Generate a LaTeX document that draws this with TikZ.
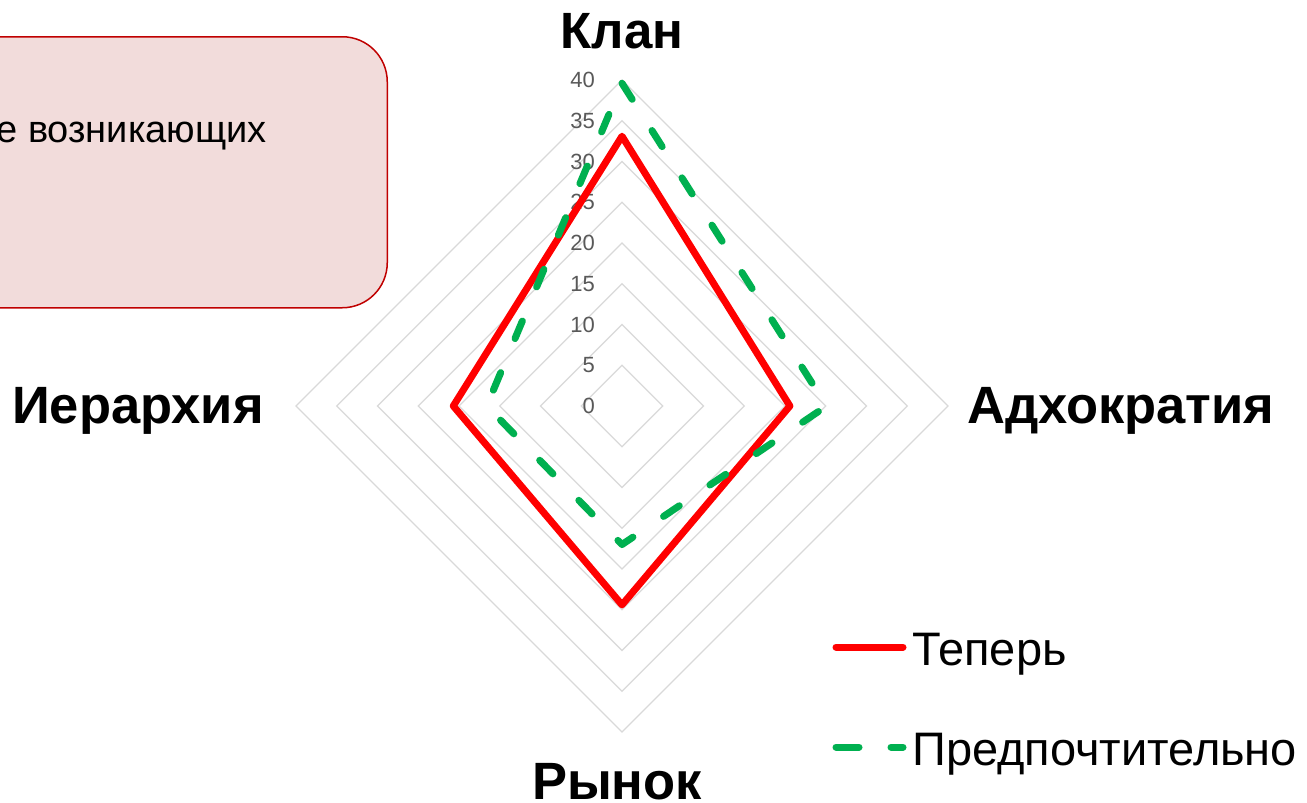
\documentclass[tikz,border=0pt]{standalone}
\usepackage{fontspec}
\setmainfont{Liberation Sans}
\definecolor{gridgray}{HTML}{D9D9D9}
\definecolor{tickgray}{HTML}{595959}
\definecolor{nowred}{HTML}{FF0000}
\definecolor{prefgreen}{HTML}{00B050}
\definecolor{boxred}{HTML}{C00000}
\definecolor{boxpink}{HTML}{F2DCDB}
\begin{document}
\begin{tikzpicture}[x=1pt,y=-1pt,
  gridline/.style={draw=gridgray, line width=1.3pt},
  nowline/.style={draw=nowred, line width=7pt, line join=round, line cap=round},
  prefline/.style={draw=prefgreen, line width=7pt, line join=round, line cap=round, dash pattern=on 19pt off 37pt},
  axislab/.style={font=\fontsize{52.5}{60}\selectfont\bfseries, anchor=base, inner sep=0pt},
  ticklab/.style={font=\fontsize{22}{26}\selectfont, text=tickgray, anchor=east, inner sep=0pt},
  legtext/.style={font=\fontsize{47}{54}\selectfont, anchor=base west, inner sep=0pt},
  notebox/.style={draw=boxred, fill=boxpink, line width=1.5pt, rounded corners=45pt, anchor=north east, minimum width=460pt, minimum height=271pt, inner sep=0pt},
]
\useasboundingbox (0,0) rectangle (1307,803);
\clip (0,0) rectangle (1307,803);
\fill[white] (0,0) rectangle (1307,803);
% note box
\node[notebox] (note) at (388,36) {};
\node[font=\fontsize{38}{44}\selectfont, anchor=base east, inner sep=0pt] (notetext) at (267,142) {е возникающих};
% grid
\coordinate (c) at (622,406);
\foreach \k in {1,...,8}{
  \draw[gridline] (622,406-\k*40.75) -- (622+\k*40.75,406) -- (622,406+\k*40.75) -- (622-\k*40.75,406) -- cycle;
}
% tick labels
\foreach \k/\v in {0/0,1/5,2/10,3/15,4/20,5/25,6/30,7/35,8/40}{
  \node[ticklab] (t\k) at (595,406-\k*40.75) {\v};
}
% series
\def\s{8.15}
\coordinate (nk) at (622,406-33.1*\s);
\coordinate (na) at (622+20.6*\s,406);
\coordinate (nr) at (622,406+24.4*\s);
\coordinate (ni) at (622-20.7*\s,406);
\draw[nowline] (nk) -- (na) -- (nr) -- (ni) -- cycle;
\coordinate (pk) at (622,406-39.6*\s);
\coordinate (pa) at (622+25.1*\s,406);
\coordinate (pr) at (622,406+17.0*\s);
\coordinate (pi) at (622-16.6*\s,406);
\draw[prefline] (pk) -- (pa) -- (pr) -- (pi) -- cycle;
% axis labels
\node[axislab, font=\fontsize{51}{60}\selectfont\bfseries] (klan) at (622,48) {Клан};
\node[axislab, anchor=base west] (adh) at (967,423) {Адхократия};
\node[axislab] (rynok) at (617,799) {Рынок};
\node[axislab, anchor=base west] (ier) at (12,423) {Иерархия};
% legend
\coordinate (l1a) at (836,647);
\coordinate (l1b) at (903,647);
\draw[nowline] (l1a) -- (l1b);
\coordinate (l2a) at (836,747);
\coordinate (l2b) at (903,747);
\draw[prefline, dash pattern=on 23pt off 32pt] (l2a) -- (l2b);
\node[legtext] (leg1) at (912,665) {Теперь};
\node[legtext] (leg2) at (912,765) {Предпочтительно};
\end{tikzpicture}
\end{document}
